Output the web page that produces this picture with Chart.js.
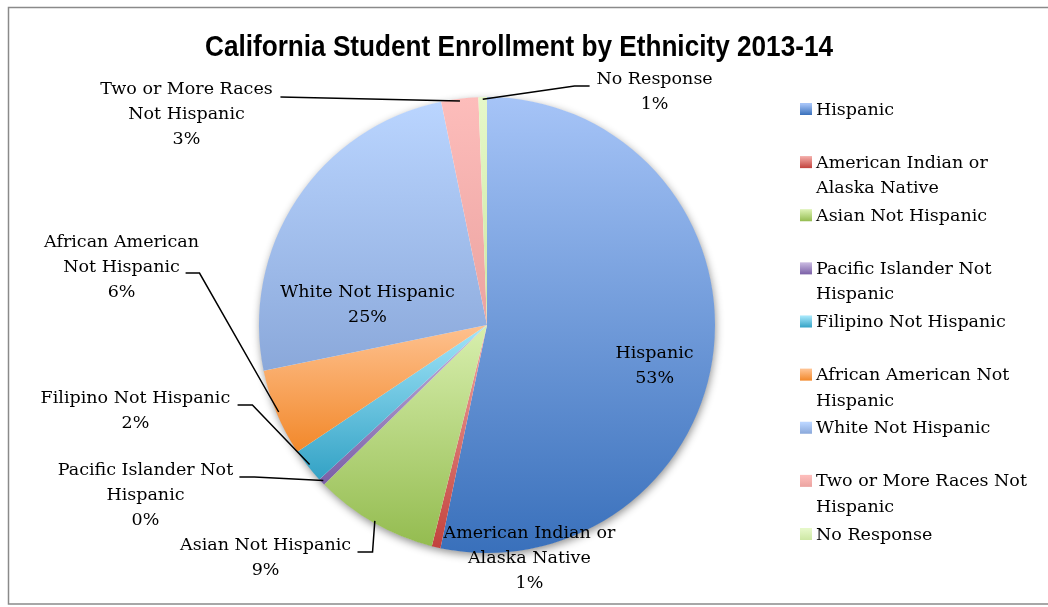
<!DOCTYPE html>
<html>
<head>
<meta charset="utf-8">
<script src="https://cdn.jsdelivr.net/npm/chart.js@4"></script>
<style>
  html, body { margin: 0; padding: 0; background: #ffffff; }
  #wrap { position: relative; width: 1048px; height: 607px; }
</style>
</head>
<body>
<div id="wrap"><canvas id="c"></canvas></div>
<script>
// ---- data ----
const chartTitle = 'California Student Enrollment by Ethnicity 2013-14';
const categories = [
  'Hispanic',
  'American Indian or Alaska Native',
  'Asian Not Hispanic',
  'Pacific Islander Not Hispanic',
  'Filipino Not Hispanic',
  'African American Not Hispanic',
  'White Not Hispanic',
  'Two or More Races Not Hispanic',
  'No Response'
];
const shares = [53.25, 0.62, 8.77, 0.49, 2.47, 6.15, 24.99, 2.62, 0.60];

// ---- styles ----
const lightColors = ['#A6C4F7', '#F1A6A2', '#D8EFAE', '#C4B4DD', '#A2E5F9', '#FEC18F', '#BAD5FF', '#FDBDBB', '#E6F8C9'];
const darkColors  = ['#3970BB', '#C2423D', '#94BC50', '#7A5FA6', '#33A2C5', '#F2882A', '#8AA8DA', '#EBA3A0', '#CDE7A4'];

// label placement, in units of pie radius relative to the pie centre
const labelLayout = [
  { pos: [0.735, 0.178],   words: null, leader: null },
  { pos: [0.186, 1.022],   words: [3],  leader: null },
  { pos: [-0.971, 1.020],  words: null, leader: [[-0.568, 0.996], [-0.502, 0.996]] },
  { pos: [-1.498, 0.746],  words: [3],  leader: [[-1.086, 0.667], [-1.020, 0.667]] },
  { pos: [-1.542, 0.377],  words: null, leader: [[-1.094, 0.351], [-1.029, 0.351]] },
  { pos: [-1.603, -0.254], words: [2],  leader: [[-1.322, -0.228], [-1.261, -0.228]] },
  { pos: [-0.524, -0.090], words: null, leader: null },
  { pos: [-1.318, -0.925], words: [4],  leader: [[-0.906, -1.0], [-0.906, -1.0]] },
  { pos: [0.735, -1.022],  words: null, leader: [[0.450, -1.048], [0.384, -1.048]] }
];
const legendWords = [null, [3], null, [3], null, [3], null, [5], null];

const SERIF = '"DejaVu Serif", "Liberation Serif", serif';
const LABEL_FONT = '17.5px ' + SERIF;
const LINE_H = 25;

function splitWords(text, words) {
  if (!words) return [text];
  const w = text.split(' ');
  const out = [];
  let k = 0;
  words.forEach(n => { out.push(w.slice(k, k + n).join(' ')); k += n; });
  if (k < w.length) out.push(w.slice(k).join(' '));
  return out;
}

const total = shares.reduce((a, b) => a + b, 0);

function sliceGradient(context) {
  const chart = context.chart;
  const i = context.dataIndex;
  const area = chart.chartArea;
  if (!area || i === undefined) return darkColors[i || 0];
  const cx = (area.left + area.right) / 2, cy = (area.top + area.bottom) / 2;
  const r = Math.min(area.right - area.left, area.bottom - area.top) / 2;
  let before = 0;
  for (let k = 0; k < i; k++) before += shares[k];
  const a0 = -Math.PI / 2 + before / total * 2 * Math.PI;
  const a1 = a0 + shares[i] / total * 2 * Math.PI;
  const ys = [cy, cy + r * Math.sin(a0), cy + r * Math.sin(a1)];
  for (let k = -2; k <= 3; k++) {
    [Math.PI / 2 + 2 * Math.PI * k, -Math.PI / 2 + 2 * Math.PI * k].forEach(t => {
      if (t >= a0 && t <= a1) ys.push(cy + r * Math.sin(t));
    });
  }
  const y0 = Math.min(...ys), y1 = Math.max(...ys);
  const g = chart.ctx.createLinearGradient(0, y0, 0, Math.max(y1, y0 + 1));
  g.addColorStop(0, lightColors[i]);
  g.addColorStop(1, darkColors[i]);
  return g;
}

const decorPlugin = {
  id: 'decor',
  beforeDatasetsDraw(chart) {
    const ctx = chart.ctx;
    const arc = chart.getDatasetMeta(0).data[0];
    if (!arc) return;
    ctx.save();
    ctx.shadowColor = 'rgba(0,0,0,0.45)';
    ctx.shadowBlur = 9;
    ctx.shadowOffsetX = 1;
    ctx.shadowOffsetY = 3;
    ctx.fillStyle = '#ffffff';
    ctx.beginPath();
    ctx.arc(arc.x, arc.y, arc.outerRadius - 0.5, 0, Math.PI * 2);
    ctx.fill();
    ctx.restore();
  },
  afterDraw(chart) {
    const ctx = chart.ctx;
    const meta = chart.getDatasetMeta(0);
    ctx.save();

    // frame
    ctx.strokeStyle = '#8a8a8a';
    ctx.lineWidth = 1.5;
    ctx.strokeRect(8.5, 7.5, 1060, 596.5);

    // title
    ctx.fillStyle = '#000000';
    ctx.font = 'bold 29px "Liberation Sans Narrow", "Liberation Sans", sans-serif';
    ctx.textAlign = 'center';
    ctx.textBaseline = 'alphabetic';
    const tw = ctx.measureText(chartTitle).width;
    const targetW = 628;
    ctx.save();
    ctx.translate(519, 56);
    ctx.scale(targetW / tw, 1);
    ctx.fillText(chartTitle, 0, 0);
    ctx.restore();

    // data labels + leader lines
    ctx.font = LABEL_FONT;
    ctx.textAlign = 'center';
    ctx.textBaseline = 'middle';
    meta.data.forEach((el, i) => {
      const L = labelLayout[i];
      const R = el.outerRadius;
      const pct = Math.round(shares[i] / total * 100) + '%';
      const lines = splitWords(categories[i], L.words).concat([pct]);
      const bx = el.x + L.pos[0] * R;
      const by = el.y + L.pos[1] * R;
      const top = by - (lines.length - 1) * LINE_H / 2;
      ctx.fillStyle = '#000000';
      lines.forEach((t, k) => ctx.fillText(t, bx, top + k * LINE_H));
      if (L.leader) {
        const mid = (el.startAngle + el.endAngle) / 2;
        const ex = el.x + Math.cos(mid) * R * 0.99;
        const ey = el.y + Math.sin(mid) * R * 0.99;
        ctx.strokeStyle = '#000000';
        ctx.lineWidth = 1.5;
        ctx.beginPath();
        ctx.moveTo(el.x + L.leader[0][0] * R, el.y + L.leader[0][1] * R);
        ctx.lineTo(el.x + L.leader[1][0] * R, el.y + L.leader[1][1] * R);
        ctx.lineTo(ex, ey);
        ctx.stroke();
      }
    });

    // legend
    const lx = 800, tx = 816, ly0 = 110, step = 53.125, lh = 25.5;
    ctx.textAlign = 'left';
    categories.forEach((name, i) => {
      const y = ly0 + i * step;
      const g = ctx.createLinearGradient(0, y - 6, 0, y + 5);
      g.addColorStop(0, lightColors[i]);
      g.addColorStop(1, darkColors[i]);
      ctx.fillStyle = g;
      ctx.fillRect(lx, y - 7, 12, 12);
      ctx.fillStyle = '#000000';
      splitWords(name, legendWords[i]).forEach((t, k) => ctx.fillText(t, tx, y + k * lh));
    });
    ctx.restore();
  }
};

new Chart(document.getElementById('c'), {
  type: 'pie',
  data: {
    labels: categories,
    datasets: [{
      data: shares,
      backgroundColor: sliceGradient,
      borderWidth: 0,
      hoverOffset: 0
    }]
  },
  options: {
    responsive: true,
    maintainAspectRatio: false,
    animation: false,
    events: [],
    layout: { padding: { left: 259, top: 97, right: 333, bottom: 54 } },
    plugins: {
      legend: { display: false },
      title: { display: false },
      tooltip: { enabled: false }
    }
  },
  plugins: [decorPlugin]
});
</script>
</body>
</html>
